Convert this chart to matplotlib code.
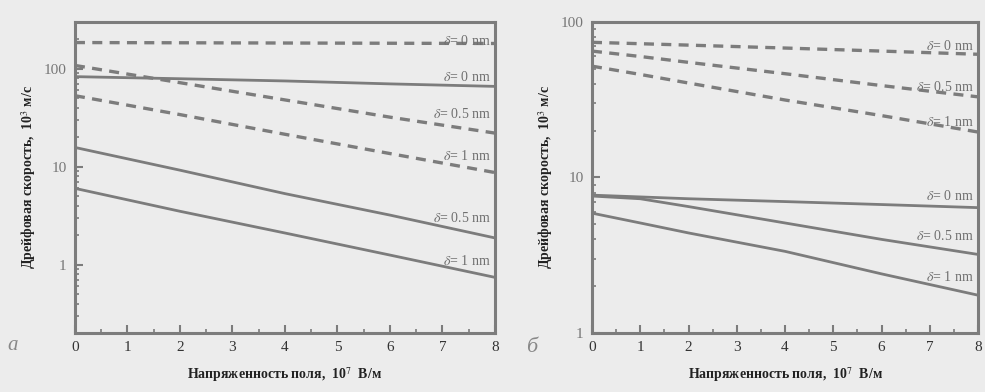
import matplotlib
matplotlib.use("Agg")
import matplotlib.pyplot as plt
from matplotlib.ticker import FixedLocator, NullFormatter, LogLocator

plt.rcParams["mathtext.fontset"] = "stix"

# ---- data ----
x_a = [0, 2, 4, 6, 8]
a_dash_0 = [185, 184, 183, 182, 181]
a_dash_05 = [108, 72, 48, 32, 22]
a_dash_1 = [53, 34, 21.4, 13.6, 8.7]
a_solid_0 = [83, 79, 75, 70, 66]
a_solid_05 = [15.7, 9.2, 5.3, 3.2, 1.87]
a_solid_1 = [6.0, 3.5, 2.1, 1.25, 0.74]

x_b = [0, 1, 2, 4, 6, 8]
b_dash_0 = [74, 72.5, 71, 68, 65, 62]
b_dash_05 = [65, 60, 55, 46.5, 39, 33]
b_dash_1 = [52, 46, 40.5, 31.5, 25, 19.6]
b_solid_0 = [7.7, 7.5, 7.3, 7.0, 6.7, 6.4]
b_solid_05 = [7.6, 7.3, 6.5, 5.1, 4.0, 3.2]
b_solid_1 = [5.9, 5.1, 4.4, 3.35, 2.4, 1.75]

delta_labels = ["$\\delta$= 0 nm", "$\\delta$= 0.5 nm", "$\\delta$= 1 nm"]
x_ticks = [0, 1, 2, 3, 4, 5, 6, 7, 8]
xlabel = "Напряженность поля,  10$^7$  В/м"
ylabel = "Дрейфовая скорость,  10$^3$ м/с"

BG = "#ececec"
LC = "#7c7c7c"
TXT = "#707070"
SERIF = ["Liberation Serif", "DejaVu Serif"]

fig = plt.figure(figsize=(9.85, 3.92), dpi=100, facecolor=BG)
ax_a = fig.add_axes([0.0761, 0.1505, 0.4264, 0.7934])
ax_b = fig.add_axes([0.601, 0.1505, 0.392, 0.7934])

def style(ax, ylim, yticks, yticklabels):
    ax.set_facecolor(BG)
    ax.set_yscale("log")
    ax.set_xlim(0, 8)
    ax.set_ylim(*ylim)
    for s in ax.spines.values():
        s.set_color(LC)
        s.set_linewidth(2.2)
    ax.xaxis.set_major_locator(FixedLocator(x_ticks))
    ax.xaxis.set_minor_locator(FixedLocator([i + 0.5 for i in range(8)]))
    ax.set_xticklabels([str(t) for t in x_ticks], family=SERIF, fontsize=11, color="#333333")
    ax.yaxis.set_major_locator(FixedLocator(yticks))
    ax.set_yticklabels(yticklabels, family=SERIF, fontsize=11, color="#777777")
    ax.yaxis.set_minor_locator(LogLocator(base=10, subs=range(2, 10)))
    ax.yaxis.set_minor_formatter(NullFormatter())
    ax.tick_params(which="major", direction="in", length=6, width=1.5, color=LC, pad=6)
    ax.tick_params(which="minor", direction="in", length=3, width=1.2, color=LC)
    ax.set_xlabel(xlabel, fontsize=10, color="#222222", family=SERIF, fontweight="bold", labelpad=8)
    ax.set_ylabel(ylabel, fontsize=10, color="#222222", family=SERIF, fontweight="bold", labelpad=4)

def lbl(ax, x, y, text, dy):
    ax.annotate(text, xy=(x, y), xytext=(-3, dy), textcoords="offset points",
                ha="right", va="bottom", fontsize=10, color=TXT, family=SERIF)

dash_kw = dict(color=LC, lw=2.4, dashes=(3.0, 2.2))
solid_kw = dict(color=LC, lw=2.0)

# panel a
style(ax_a, (0.2, 300), [1, 10, 100], ["1", "10", "100"])
for ys in (a_dash_0, a_dash_05, a_dash_1):
    ax_a.plot(x_a, ys, **dash_kw)
for ys in (a_solid_0, a_solid_05, a_solid_1):
    ax_a.plot(x_a, ys, **solid_kw)
lbl(ax_a, 8, a_dash_0[-1], delta_labels[0], -3)
lbl(ax_a, 8, a_dash_05[-1], delta_labels[1], 9)
lbl(ax_a, 8, a_dash_1[-1], delta_labels[2], 7)
lbl(ax_a, 8, a_solid_0[-1], delta_labels[0], 2)
lbl(ax_a, 8, a_solid_05[-1], delta_labels[1], 9)
lbl(ax_a, 8, a_solid_1[-1], delta_labels[2], 7)

# panel b
style(ax_b, (1, 100), [1, 10, 100], ["1", "10", "100"])
for ys in (b_dash_0, b_dash_05, b_dash_1):
    ax_b.plot(x_b, ys, **dash_kw)
for ys in (b_solid_0, b_solid_05, b_solid_1):
    ax_b.plot(x_b, ys, **solid_kw)
lbl(ax_b, 8, b_dash_0[-1], delta_labels[0], 1)
lbl(ax_b, 8, b_dash_05[-1], delta_labels[1], 2)
lbl(ax_b, 8, b_dash_1[-1], delta_labels[2], 2)
lbl(ax_b, 8, b_solid_0[-1], delta_labels[0], 3)
lbl(ax_b, 8, b_solid_05[-1], delta_labels[1], 8)
lbl(ax_b, 8, b_solid_1[-1], delta_labels[2], 8)

fig.text(13 / 985, 1 - 345 / 392, "а", fontsize=15, style="italic", color="#888888",
         family=SERIF, ha="center", va="center")
fig.text(532 / 985, 1 - 348 / 392, "б", fontsize=16, style="italic", color="#888888",
         family=SERIF, ha="center", va="center")

fig.savefig("out.png", dpi=100, facecolor=BG)
